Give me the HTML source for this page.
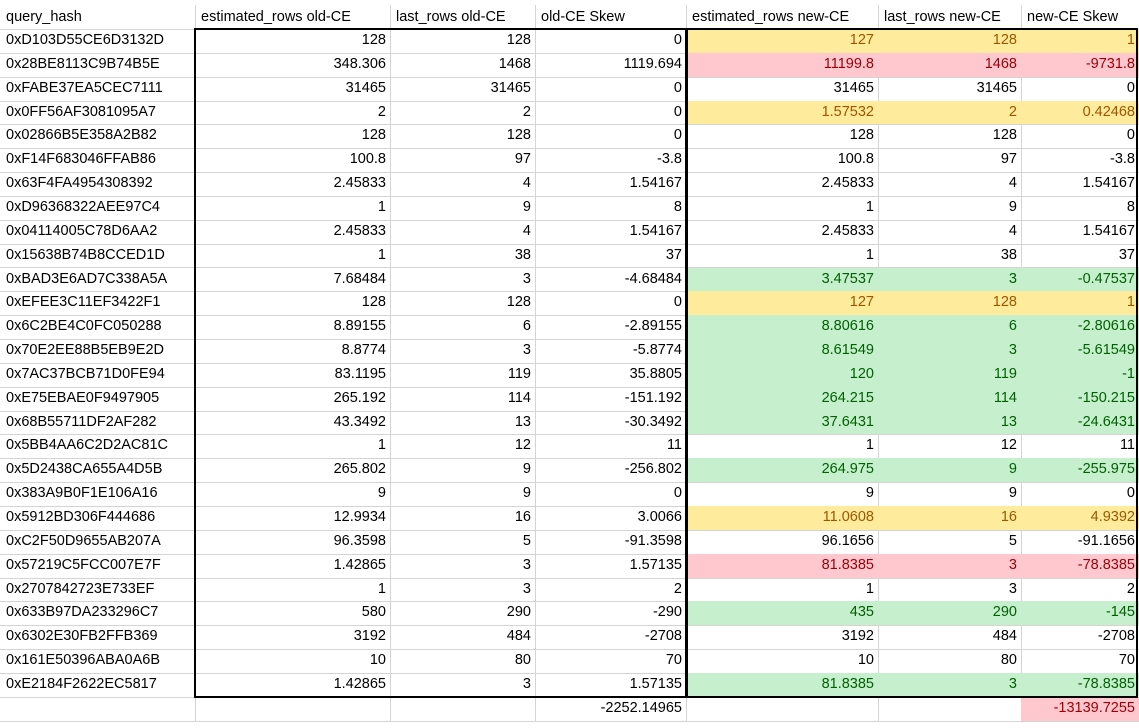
<!DOCTYPE html>
<html><head><meta charset="utf-8"><style>
body{margin:0;width:1139px;height:728px;background:#fff;overflow:hidden;font-family:"Liberation Sans",Arial,sans-serif;}
#sheet{position:absolute;left:0;top:0;width:1139px;height:728px;}
.c{position:absolute;box-sizing:border-box;border-right:1px solid #d4d4d4;border-bottom:1px solid #d4d4d4;font-size:14.5px;white-space:nowrap;overflow:hidden;color:#000;padding:0 4px;text-align:right;}
.c.l{text-align:left;padding-left:6px;}
.y{background:#FFEB9C;color:#9C5700;}
.r{background:#FFC7CE;color:#9C0006;}
.g{background:#C6EFCE;color:#006100;}
.box{position:absolute;border:2px solid #000;box-sizing:border-box;pointer-events:none;}
</style></head><body>
<div id="sheet"></div>
<script>
const headers=["query_hash","estimated_rows old-CE","last_rows old-CE","old-CE Skew","estimated_rows new-CE","last_rows new-CE","new-CE Skew"];
const hashes=["0xD103D55CE6D3132D","0x28BE8113C9B74B5E","0xFABE37EA5CEC7111","0x0FF56AF3081095A7","0x02866B5E358A2B82","0xF14F683046FFAB86","0x63F4FA4954308392","0xD96368322AEE97C4","0x04114005C78D6AA2","0x15638B74B8CCED1D","0xBAD3E6AD7C338A5A","0xEFEE3C11EF3422F1","0x6C2BE4C0FC050288","0x70E2EE88B5EB9E2D","0x7AC37BCB71D0FE94","0xE75EBAE0F9497905","0x68B55711DF2AF282","0x5BB4AA6C2D2AC81C","0x5D2438CA655A4D5B","0x383A9B0F1E106A16","0x5912BD306F444686","0xC2F50D9655AB207A","0x57219C5FCC007E7F","0x2707842723E733EF","0x633B97DA233296C7","0x6302E30FB2FFB369","0x161E50396ABA0A6B","0xE2184F2622EC5817"];
const estOld=["128","348.306","31465","2","128","100.8","2.45833","1","2.45833","1","7.68484","128","8.89155","8.8774","83.1195","265.192","43.3492","1","265.802","9","12.9934","96.3598","1.42865","1","580","3192","10","1.42865"];
const lastOld=["128","1468","31465","2","128","97","4","9","4","38","3","128","6","3","119","114","13","12","9","9","16","5","3","3","290","484","80","3"];
const skewOld=["0","1119.694","0","0","0","-3.8","1.54167","8","1.54167","37","-4.68484","0","-2.89155","-5.8774","35.8805","-151.192","-30.3492","11","-256.802","0","3.0066","-91.3598","1.57135","2","-290","-2708","70","1.57135"];
const estNew=["127","11199.8","31465","1.57532","128","100.8","2.45833","1","2.45833","1","3.47537","127","8.80616","8.61549","120","264.215","37.6431","1","264.975","9","11.0608","96.1656","81.8385","1","435","3192","10","81.8385"];
const lastNew=["128","1468","31465","2","128","97","4","9","4","38","3","128","6","3","119","114","13","12","9","9","16","5","3","3","290","484","80","3"];
const skewNew=["1","-9731.8","0","0.42468","0","-3.8","1.54167","8","1.54167","37","-0.47537","1","-2.80616","-5.61549","-1","-150.215","-24.6431","11","-255.975","0","4.9392","-91.1656","-78.8385","2","-145","-2708","70","-78.8385"];
const status=["y","r","","y","","","","","","","g","y","g","g","g","g","g","","g","","y","","r","","g","","","g"];
const totals=["","","","-2252.14965","","","-13139.7255"];
const xs=[0,195,390,535,686,878,1021,1139];
const top0=5, hh=24, rh=23.85;
const sheet=document.getElementById('sheet');
function cell(x0,x1,y,h,text,cls,name){
  const d=document.createElement('div');
  d.className='c '+cls;
  d.style.left=x0+'px';d.style.width=(x1-x0+1)+'px';
  d.style.top=y+'px';d.style.height=(h+1)+'px';
  d.style.lineHeight=h+'px';
  d.textContent=text;
  
  
  sheet.appendChild(d);
}
headers.forEach((h,i)=>cell(xs[i],xs[i+1],top0,hh,h,'l','header-'+i));
const cols=[hashes,estOld,lastOld,skewOld,estNew,lastNew,skewNew];
for(let r=0;r<hashes.length;r++){
  const y=top0+hh+r*rh;
  for(let c=0;c<7;c++){
    let cls=c===0?'l':'';
    if(c>=4&&status[r])cls+=' '+status[r];
    cell(xs[c],xs[c+1],y,rh,cols[c][r],cls,'cell-r'+(r+1)+'-c'+c);
  }
}
const ty=top0+hh+hashes.length*rh;
totals.forEach((t,c)=>cell(xs[c],xs[c+1],ty,rh,t,(c===6?'r':''),'total-c'+c));
const bTop=top0+hh-1, bH=hashes.length*rh+2;
const b1=document.createElement('div');b1.className='box';
b1.style.left='194px';b1.style.top=bTop+'px';b1.style.width=(686-194+2)+'px';b1.style.height=bH+'px';


sheet.appendChild(b1);
const b2=document.createElement('div');b2.className='box';
b2.style.left='685px';b2.style.top=bTop+'px';b2.style.width=(1138-685)+'px';b2.style.height=bH+'px';


sheet.appendChild(b2);
</script>
</body></html>
